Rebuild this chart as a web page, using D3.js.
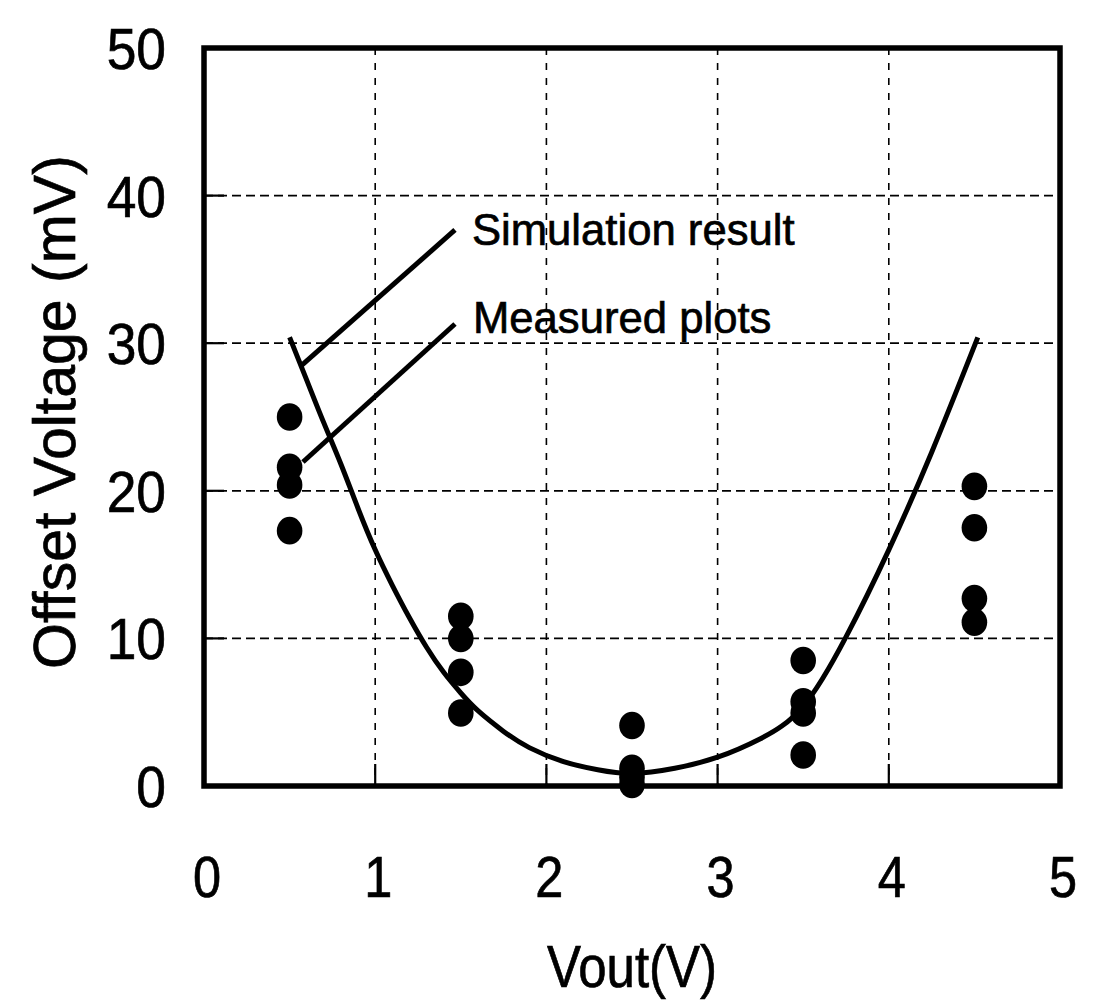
<!DOCTYPE html>
<html>
<head>
<meta charset="utf-8">
<script src="https://cdn.jsdelivr.net/npm/d3@7"></script>
<style>
  body { margin: 0; background: #fff; }
  text { font-family: "Liberation Sans", Arial, sans-serif; fill: #000; stroke: #000; stroke-width: 0.7px; }
</style>
</head>
<body>
<div id="chart"></div>
<script>
// measured offset voltage (mV) at each Vout (V)
const measuredX = [0.5, 0.5, 0.5, 0.5,
                   1.5, 1.5, 1.5, 1.5,
                   2.5, 2.5, 2.5, 2.5,
                   3.5, 3.5, 3.5, 3.5,
                   4.5, 4.5, 4.5, 4.5];
const measuredY = [25.0, 21.6, 20.4, 17.3,
                   11.5, 10.0, 7.7, 4.95,
                   4.1, 1.2, 0.6, 0.1,
                   8.5, 5.7, 4.95, 2.1,
                   20.3, 17.5, 12.7, 11.1];

// simulation result curve
const simX = [0.5, 0.6, 0.7, 0.8, 0.9, 1.0, 1.1, 1.2, 1.3, 1.4, 1.5, 1.6, 1.75, 1.9, 2.1, 2.3, 2.5,
              2.75, 3.0, 3.25, 3.5, 3.75, 4.0, 4.25, 4.52];
const simY = [30.4, 27.5, 24.6, 21.8, 18.8, 16.0, 13.6, 11.4, 9.4, 7.7, 6.3, 5.1, 3.7, 2.6, 1.65, 1.1, 0.85,
              1.2, 1.95, 3.2, 5.4, 10.1, 16.0, 22.6, 30.4];

const xTicks = [0, 1, 2, 3, 4, 5];
const yTicks = [0, 10, 20, 30, 40, 50];

const xTitle = "Vout(V)";
const yTitle = "Offset Voltage (mV)";

// annotations: leader start (on data), leader end, label position (data units)
const notes = [
  { text: "Simulation result", from: [0.57, 28.5], to: [1.466, 37.67], at: [1.565, 36.65] },
  { text: "Measured plots",    from: [0.578, 21.95], to: [1.466, 31.3], at: [1.571, 30.7] }
];

const width = 1094, height = 1001;
const plot = { left: 204, right: 1060, top: 48, bottom: 786 };

const svg = d3.select("#chart").append("svg")
    .attr("width", width)
    .attr("height", height);

const x = d3.scaleLinear().domain([0, 5]).range([plot.left, plot.right]);
const y = d3.scaleLinear().domain([0, 50]).range([plot.bottom, plot.top]);

// grid
svg.append("g")
    .selectAll("line")
    .data(yTicks.filter(d => d > 0 && d < 50))
    .enter().append("line")
    .attr("x1", plot.left).attr("x2", plot.right)
    .attr("y1", d => y(d)).attr("y2", d => y(d))
    .attr("stroke", "#000")
    .attr("stroke-width", 1.8)
    .attr("stroke-dasharray", "9,5");

svg.append("g")
    .selectAll("line")
    .data(xTicks.filter(d => d > 0 && d < 5))
    .enter().append("line")
    .attr("x1", d => x(d)).attr("x2", d => x(d))
    .attr("y1", plot.top).attr("y2", plot.bottom)
    .attr("stroke", "#000")
    .attr("stroke-width", 1.6)
    .attr("stroke-dasharray", "7,8");

// inner ticks on bottom and left
svg.append("g")
    .selectAll("line")
    .data(xTicks.filter(d => d > 0 && d < 5))
    .enter().append("line")
    .attr("x1", d => x(d)).attr("x2", d => x(d))
    .attr("y1", plot.bottom).attr("y2", plot.bottom - 22)
    .attr("stroke", "#000")
    .attr("stroke-width", 2.2);

svg.append("g")
    .selectAll("line")
    .data(yTicks.filter(d => d > 0 && d < 50))
    .enter().append("line")
    .attr("x1", plot.left).attr("x2", plot.left + 20)
    .attr("y1", d => y(d)).attr("y2", d => y(d))
    .attr("stroke", "#000")
    .attr("stroke-width", 2.2);

// frame
svg.append("rect")
    .attr("x", plot.left).attr("y", plot.top)
    .attr("width", plot.right - plot.left).attr("height", plot.bottom - plot.top)
    .attr("fill", "none")
    .attr("stroke", "#000")
    .attr("stroke-width", 5.5);

// tick labels
svg.append("g")
    .selectAll("text")
    .data(xTicks)
    .enter().append("text")
    .attr("transform", d => `translate(${x(d) + 3},897) scale(0.87,1)`)
    .attr("text-anchor", "middle")
    .style("font-size", "58px")
    .text(d => d);

svg.append("g")
    .selectAll("text")
    .data(yTicks)
    .enter().append("text")
    .attr("transform", d => `translate(166,${y(d) + 21}) scale(0.92,1)`)
    .attr("text-anchor", "end")
    .style("font-size", "58px")
    .text(d => d);

// axis titles
svg.append("text")
    .attr("transform", `translate(${(plot.left + plot.right) / 2},987) scale(0.85,1)`)
    .attr("text-anchor", "middle")
    .style("font-size", "60px")
    .text(xTitle);

svg.append("text")
    .attr("transform", "translate(75,412) rotate(-90)")
    .attr("text-anchor", "middle")
    .style("font-size", "59px")
    .text(yTitle);

// simulation curve
const line = d3.line()
    .x(d => x(d[0]))
    .y(d => y(d[1]))
    .curve(d3.curveNatural);

svg.append("path")
    .datum(simX.map((v, i) => [v, simY[i]]))
    .attr("d", line)
    .attr("fill", "none")
    .attr("stroke", "#000")
    .attr("stroke-width", 5);

// measured points
svg.append("g")
    .selectAll("ellipse")
    .data(measuredX.map((v, i) => [v, measuredY[i]]))
    .enter().append("ellipse")
    .attr("cx", d => x(d[0]))
    .attr("cy", d => y(d[1]))
    .attr("rx", 12.8)
    .attr("ry", 13.8)
    .attr("fill", "#000");

// annotations
notes.forEach(n => {
    svg.append("line")
        .attr("x1", x(n.from[0])).attr("y1", y(n.from[1]))
        .attr("x2", x(n.to[0])).attr("y2", y(n.to[1]))
        .attr("stroke", "#000")
        .attr("stroke-width", 5);
    svg.append("text")
        .attr("transform", `translate(${x(n.at[0])},${y(n.at[1])}) scale(0.97,1)`)
        .style("font-size", "45px")
        .text(n.text);
});
</script>
</body>
</html>
